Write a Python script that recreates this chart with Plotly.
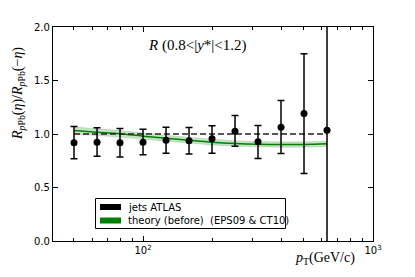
import plotly.graph_objects as go

# ---- data ----
pt = [50.1, 63.1, 79.4, 100.0, 125.9, 158.5, 199.5, 251.2, 316.2, 398.1, 501.2, 631.0]
ratio = [0.918, 0.924, 0.918, 0.924, 0.942, 0.936, 0.955, 1.026, 0.927, 1.064, 1.191, 1.036]
err_up = [0.152, 0.134, 0.133, 0.121, 0.122, 0.125, 0.121, 0.147, 0.152, 0.249, 0.560, 1.500]
err_down = [0.150, 0.131, 0.134, 0.118, 0.121, 0.124, 0.134, 0.140, 0.156, 0.246, 0.560, 1.500]

theory_pt = [50.1, 63.1, 79.4, 100.0, 125.9, 158.5, 199.5, 251.2, 316.2, 398.1, 501.2, 631.0]
theory_mid = [1.033, 1.017, 1.002, 0.980, 0.961, 0.942, 0.924, 0.912, 0.905, 0.902, 0.902, 0.908]
theory_hi = [1.066, 1.049, 1.032, 1.009, 0.989, 0.969, 0.950, 0.937, 0.930, 0.927, 0.927, 0.933]
theory_lo = [1.000, 0.985, 0.972, 0.951, 0.933, 0.915, 0.898, 0.887, 0.880, 0.877, 0.877, 0.883]

ref_x = [50.1, 631.0]
ref_y = [1.0, 1.0]

x_ticks = [100, 1000]
x_ticktext = ["10<sup>2</sup>", "10<sup>3</sup>"]
x_minor = [50, 60, 70, 80, 90, 200, 300, 400, 500, 600, 700, 800, 900]
y_ticks = [0.0, 0.5, 1.0, 1.5, 2.0]
y_ticktext = ["0.0", "0.5", "1.0", "1.5", "2.0"]

legend_labels = ["jets ATLAS", "theory (before)\u00a0\u00a0(EPS09 &amp; CT10)"]
legend_colors = ["black", "#008000"]

# page body has an 8px margin; lay out the figure so the plot lands where the reference has it
OFF = 8
W, H = 415 - OFF, 277 - OFF
L, R, T, B = 53 - OFF, 42, 27 - OFF, 36
pw, ph = W - L - R, H - T - B


def px(x):  # page pixel -> paper
    return (x - OFF - L) / pw


def py(y):
    return (H - B - (y - OFF)) / ph


fig = go.Figure()

# theory band
fig.add_trace(go.Scatter(x=theory_pt, y=theory_hi, mode="lines",
                         line=dict(color="rgba(0,128,0,0.25)", width=0.6, shape="spline"),
                         showlegend=False, hoverinfo="skip"))
fig.add_trace(go.Scatter(x=theory_pt, y=theory_lo, mode="lines", fill="tonexty",
                         fillcolor="rgba(0,128,0,0.22)",
                         line=dict(color="rgba(0,128,0,0.25)", width=0.6, shape="spline"),
                         showlegend=False, hoverinfo="skip"))
fig.add_trace(go.Scatter(x=theory_pt, y=theory_mid, mode="lines",
                         line=dict(color="#008000", width=1.5, shape="spline"),
                         showlegend=False))
# reference line
fig.add_trace(go.Scatter(x=ref_x, y=ref_y, mode="lines",
                         line=dict(color="#222222", width=1.3, dash="6px,3px"),
                         showlegend=False))
# data
fig.add_trace(go.Scatter(x=pt, y=ratio, mode="markers",
                         marker=dict(color="black", size=7),
                         error_y=dict(type="data", symmetric=False, array=err_up,
                                      arrayminus=err_down, color="black",
                                      thickness=1.5, width=3.5),
                         showlegend=False))

axis_common = dict(showline=True, linecolor="black", linewidth=1.3, mirror="ticks",
                   ticks="inside", tickcolor="black", showgrid=False, zeroline=False,
                   automargin=False,
                   tickfont=dict(family="DejaVu Sans", size=10, color="black"))

fig.update_xaxes(type="log", range=[1.6085, 3.0], tickmode="array",
                 tickvals=x_ticks, ticktext=x_ticktext, ticklen=5, tickwidth=1,
                 minor=dict(tickmode="array", tickvals=x_minor, ticks="inside",
                            ticklen=2.5, tickcolor="black", tickwidth=0.8, showgrid=False),
                 **axis_common)
fig.update_yaxes(range=[0, 2], tickmode="array", tickvals=y_ticks, ticktext=y_ticktext,
                 ticklen=5, tickwidth=1, **axis_common)

shapes = []
annotations = []
# legend box
shapes.append(dict(type="rect", xref="paper", yref="paper",
                   x0=px(95.5), x1=px(285.5), y0=py(228.5), y1=py(198.5),
                   line=dict(color="black", width=1), fillcolor="white", layer="above"))
for i, (lab, col) in enumerate(zip(legend_labels, legend_colors)):
    yc = 207 + i * 13.5
    shapes.append(dict(type="rect", xref="paper", yref="paper",
                       x0=px(100), x1=px(121), y0=py(yc + 3), y1=py(yc - 3),
                       line=dict(width=0), fillcolor=col, layer="above"))
    annotations.append(dict(text=lab, xref="paper", yref="paper", x=px(126), y=py(yc),
                            xanchor="left", yanchor="middle", showarrow=False,
                            font=dict(family="DejaVu Sans", size=10, color="black")))

annotations.append(dict(text="<i>R</i> (0.8&lt;|<i>y</i>*|&lt;1.2)", xref="paper", yref="paper",
                        x=px(197), y=py(45), xanchor="center", yanchor="middle",
                        showarrow=False,
                        font=dict(family="Liberation Serif", size=15, color="black")))
annotations.append(dict(text="<i>p</i><sub>T</sub>(GeV/c)", xref="paper", yref="paper",
                        x=px(325), y=py(259), xanchor="center", yanchor="middle",
                        showarrow=False,
                        font=dict(family="Liberation Serif", size=14, color="black")))
annotations.append(dict(text="<i>R</i><sub><i>p</i>Pb</sub>(<i>η</i>)/<i>R</i><sub><i>p</i>Pb</sub>(−<i>η</i>)",
                        xref="paper", yref="paper", x=px(18), y=py(94), textangle=-90,
                        xanchor="center", yanchor="middle", showarrow=False,
                        font=dict(family="Liberation Serif", size=14, color="black")))

fig.update_layout(width=W, height=H, margin=dict(l=L, r=R, t=T, b=B),
                  paper_bgcolor="white", plot_bgcolor="white",
                  shapes=shapes, annotations=annotations, showlegend=False)

fig.write_html("out.html")
